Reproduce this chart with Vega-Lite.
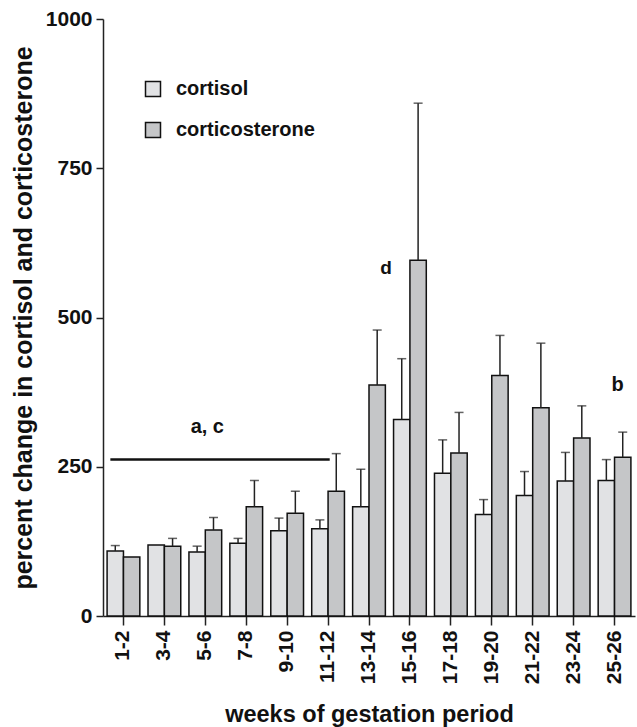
{
  "$schema": "https://vega.github.io/schema/vega-lite/v6.json",
  "width": 532,
  "height": 597,
  "autosize": {"type": "none"},
  "padding": {"left": 103, "top": 19, "right": 2, "bottom": 111},
  "background": "white",
  "config": {
    "view": {"stroke": null},
    "font": "Liberation Sans",
    "axis": {"grid": false, "domainColor": "#222", "tickColor": "#222", "domainWidth": 1.5, "tickWidth": 1.5, "labelColor": "#111", "titleColor": "#111", "labelFont": "Liberation Sans", "titleFont": "Liberation Sans", "labelFontWeight": "bold", "titleFontWeight": "bold"}
  },
  "datasets": {
    "bars": [
      {"week": "1-2", "hormone": "cortisol", "mean": 109, "upper": 118},
      {"week": "1-2", "hormone": "corticosterone", "mean": 99, "upper": null},
      {"week": "3-4", "hormone": "cortisol", "mean": 119, "upper": null},
      {"week": "3-4", "hormone": "corticosterone", "mean": 117, "upper": 130},
      {"week": "5-6", "hormone": "cortisol", "mean": 107, "upper": 117},
      {"week": "5-6", "hormone": "corticosterone", "mean": 144, "upper": 165},
      {"week": "7-8", "hormone": "cortisol", "mean": 122, "upper": 130},
      {"week": "7-8", "hormone": "corticosterone", "mean": 183, "upper": 227},
      {"week": "9-10", "hormone": "cortisol", "mean": 143, "upper": 164},
      {"week": "9-10", "hormone": "corticosterone", "mean": 172, "upper": 209},
      {"week": "11-12", "hormone": "cortisol", "mean": 146, "upper": 161},
      {"week": "11-12", "hormone": "corticosterone", "mean": 209, "upper": 272},
      {"week": "13-14", "hormone": "cortisol", "mean": 183, "upper": 246},
      {"week": "13-14", "hormone": "corticosterone", "mean": 387, "upper": 479},
      {"week": "15-16", "hormone": "cortisol", "mean": 329, "upper": 431},
      {"week": "15-16", "hormone": "corticosterone", "mean": 596, "upper": 859},
      {"week": "17-18", "hormone": "cortisol", "mean": 239, "upper": 295},
      {"week": "17-18", "hormone": "corticosterone", "mean": 273, "upper": 341},
      {"week": "19-20", "hormone": "cortisol", "mean": 170, "upper": 195},
      {"week": "19-20", "hormone": "corticosterone", "mean": 403, "upper": 470},
      {"week": "21-22", "hormone": "cortisol", "mean": 202, "upper": 242},
      {"week": "21-22", "hormone": "corticosterone", "mean": 349, "upper": 457},
      {"week": "23-24", "hormone": "cortisol", "mean": 226, "upper": 274},
      {"week": "23-24", "hormone": "corticosterone", "mean": 298, "upper": 352},
      {"week": "25-26", "hormone": "cortisol", "mean": 227, "upper": 262},
      {"week": "25-26", "hormone": "corticosterone", "mean": 266, "upper": 308}
    ],
    "labelD": [{"week": "13-14", "label": "d", "y": 583}],
    "labelB": [{"week": "25-26", "label": "b", "y": 387}],
    "labelA": [{"week": "5-6", "label": "a,  c", "y": 317}],
    "line": [
      {"from": "1-2", "to": "11-12", "y": 262}
    ]
  },
  "layer": [
    {
      "data": {"name": "bars"},
      "mark": {"type": "bar", "stroke": "#111", "strokeWidth": 1.5},
      "encoding": {
        "x": {
          "field": "week", "type": "nominal", "sort": null,
          "scale": {"paddingInner": 0.2, "paddingOuter": 0.1},
          "axis": {"title": "weeks of gestation period", "labelAngle": -90, "labelFontSize": 21, "labelPadding": 5, "tickSize": 9, "titleFontSize": 23.5, "titlePadding": 19, "labelBaseline": "middle", "labelAlign": "right"}
        },
        "xOffset": {"field": "hormone", "type": "nominal", "sort": ["cortisol", "corticosterone"], "scale": {"paddingInner": 0, "paddingOuter": 0}},
        "y": {
          "field": "mean", "type": "quantitative",
          "scale": {"domain": [0, 1000], "nice": false},
          "axis": {"title": "percent change in cortisol and corticosterone", "values": [0, 250, 500, 750, 1000], "format": "d", "labelFontSize": 21, "labelPadding": 4, "tickSize": 7, "titleFontSize": 25, "titlePadding": 9}
        },
        "color": {
          "field": "hormone", "type": "nominal", "sort": ["cortisol", "corticosterone"],
          "scale": {"domain": ["cortisol", "corticosterone"], "range": ["#e1e2e4", "#c5c6c8"]},
          "legend": {"title": null, "orient": "none", "legendX": 40, "legendY": 60, "symbolType": "square", "symbolSize": 225, "symbolStrokeColor": "#111", "symbolStrokeWidth": 1.5, "labelFontSize": 20, "labelFontWeight": "bold", "labelFont": "Liberation Sans", "labelColor": "#111", "labelOffset": 13, "rowPadding": 19}
        }
      }
    },
    {
      "data": {"name": "bars"},
      "transform": [{"filter": "datum.upper != null"}],
      "mark": {"type": "rule", "color": "#222", "strokeWidth": 1.5},
      "encoding": {
        "x": {"field": "week", "type": "nominal", "sort": null},
        "xOffset": {"field": "hormone", "type": "nominal", "sort": ["cortisol", "corticosterone"]},
        "y": {"field": "mean", "type": "quantitative"},
        "y2": {"field": "upper"}
      }
    },
    {
      "data": {"name": "bars"},
      "transform": [{"filter": "datum.upper != null"}],
      "mark": {"type": "tick", "color": "#222", "thickness": 1.5, "size": 9},
      "encoding": {
        "x": {"field": "week", "type": "nominal", "sort": null},
        "xOffset": {"field": "hormone", "type": "nominal", "sort": ["cortisol", "corticosterone"]},
        "y": {"field": "upper", "type": "quantitative"}
      }
    },
    {
      "data": {"name": "line"},
      "mark": {"type": "rule", "color": "#111", "strokeWidth": 2.5},
      "encoding": {
        "x": {"field": "from", "type": "nominal", "sort": null, "bandPosition": 0.1},
        "x2": {"field": "to", "bandPosition": 0.55},
        "y": {"field": "y", "type": "quantitative"}
      }
    },
    {
      "data": {"name": "labelD"},
      "mark": {"type": "text", "font": "Liberation Sans", "fontWeight": "bold", "fontSize": 19, "color": "#111", "baseline": "middle", "align": "center", "dx": 17},
      "encoding": {
        "x": {"field": "week", "type": "nominal", "sort": null},
        "y": {"field": "y", "type": "quantitative"},
        "text": {"field": "label"}
      }
    },
    {
      "data": {"name": "labelB"},
      "mark": {"type": "text", "font": "Liberation Sans", "fontWeight": "bold", "fontSize": 20, "color": "#111", "baseline": "middle", "align": "center", "dx": 3},
      "encoding": {
        "x": {"field": "week", "type": "nominal", "sort": null},
        "y": {"field": "y", "type": "quantitative"},
        "text": {"field": "label"}
      }
    },
    {
      "data": {"name": "labelA"},
      "mark": {"type": "text", "font": "Liberation Sans", "fontWeight": "bold", "fontSize": 20, "color": "#111", "baseline": "middle", "align": "center", "dx": 2},
      "encoding": {
        "x": {"field": "week", "type": "nominal", "sort": null},
        "y": {"field": "y", "type": "quantitative"},
        "text": {"field": "label"}
      }
    }
  ]
}
